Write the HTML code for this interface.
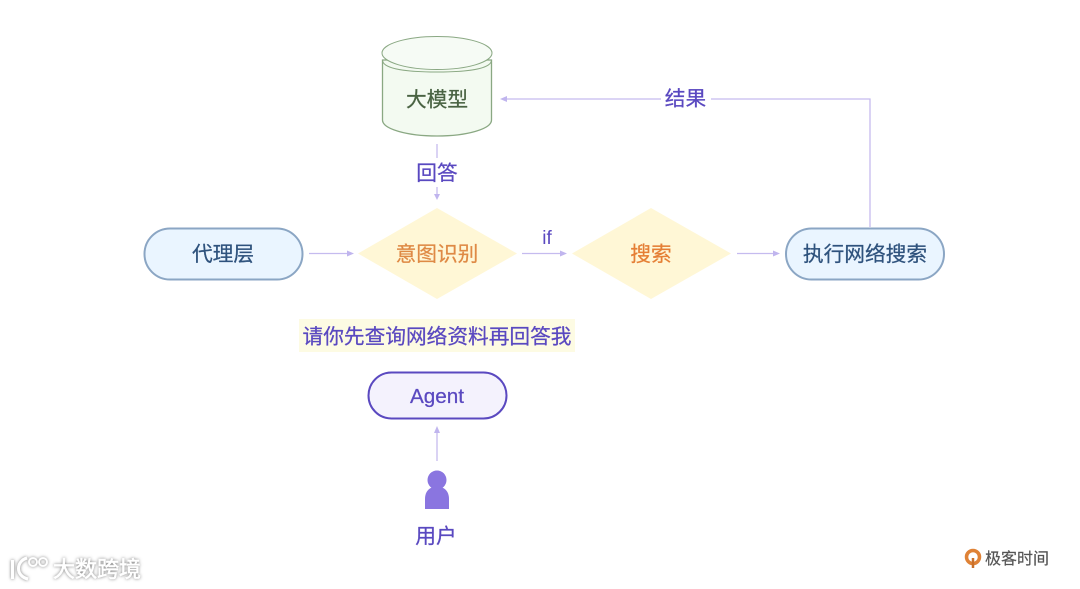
<!DOCTYPE html>
<html><head><meta charset="utf-8">
<style>
html,body{margin:0;padding:0;background:#fff;width:1080px;height:589px;overflow:hidden}
svg{display:block}
text{font-family:"Liberation Sans","Noto Sans CJK SC",sans-serif;text-anchor:middle}
.t{font-size:20.700px;stroke-width:.25px}
</style></head><body>
<svg width="1080" height="589" viewBox="0 0 1080 589" xmlns="http://www.w3.org/2000/svg">
<defs>
<filter id="sh" x="-20%" y="-40%" width="140%" height="180%"><feDropShadow dx="0" dy="0" stdDeviation="1.500" flood-color="#777" flood-opacity="1"/></filter>
<filter id="b"><feGaussianBlur stdDeviation="0.300"/></filter>
</defs>
<g filter="url(#b)">
<!-- cylinder -->
<path d="M382.500 60V120C382.500 129 407 136 437 136S491.500 129 491.500 120V60Z" fill="#f3faf1" stroke="#8aa883" stroke-width="1.300"/>
<path d="M382.500 60C382.500 69 407 72 437 72S491.500 69 491.500 60" fill="none" stroke="#8aa883" stroke-width="1"/>
<ellipse cx="437" cy="53" rx="55" ry="16.500" fill="#f6fbf5" stroke="#8aa883" stroke-width="1"/>
<!-- pills -->
<rect x="144.500" y="228.500" width="158" height="51" rx="25.500" fill="#eaf5ff" stroke="#8ba6c4" stroke-width="2"/>
<rect x="786" y="228.500" width="158" height="51" rx="25.500" fill="#eaf5ff" stroke="#8ba6c4" stroke-width="2"/>
<rect x="368.500" y="372.500" width="138" height="46" rx="23" fill="#f4f2fd" stroke="#5a48c0" stroke-width="2"/>
<!-- diamonds -->
<polygon points="437,208 517,253.500 437,299 358,253.500" fill="#fff7d6"/>
<polygon points="651,208 731,253.500 651,299 572,253.500" fill="#fff7d6"/>
<!-- highlight -->
<rect x="299" y="319" width="276" height="33" fill="#fdfbe3"/>
<!-- connectors -->
<g stroke="#c5bbef" stroke-width="1.300" fill="none">
<path d="M309 253.500H348"/>
<path d="M522 253.500H561"/>
<path d="M737 253.500H775"/>
<path d="M870 227V99H711"/>
<path d="M661 99H506"/>
<path d="M437 144V158"/>
<path d="M437 187V195"/>
<path d="M437 461V431"/>
</g>
<g fill="#c0b5ee">
<polygon points="354,253.500 347,250.500 347,256.500"/>
<polygon points="567,253.500 560,250.500 560,256.500"/>
<polygon points="780,253.500 773,250.500 773,256.500"/>
<polygon points="500,99 507,96 507,102"/>
<polygon points="437,200 434,194 440,194"/>
<polygon points="437,426 434,433 440,433"/>
</g>
<!-- user icon -->
<circle cx="437" cy="480" r="9.500" fill="#8a75e0"/>
<path d="M425 509V499C425 491 430 486.500 437 486.500S449 491 449 499V509Z" fill="#8a75e0"/>
<!-- labels -->
<text class="t" x="437" y="106.500" fill="#4a6343" stroke="#4a6343">大模型</text>
<text class="t" x="437" y="180" fill="#5a48c0" stroke="#5a48c0">回答</text>
<text class="t" x="223" y="261" fill="#2f527d" stroke="#2f527d">代理层</text>
<text class="t" x="437" y="261" fill="#df8a45" stroke="#df8a45">意图识别</text>
<text x="547" y="244" font-size="19" fill="#5a48c0">if</text>
<text class="t" x="651" y="261" fill="#e57f35" stroke="#e57f35">搜索</text>
<text class="t" x="865" y="261" fill="#2f527d" stroke="#2f527d">执行网络搜索</text>
<text class="t" x="685.500" y="105.500" fill="#5a48c0" stroke="#5a48c0">结果</text>
<text class="t" x="437" y="343.500" fill="#5a48c0" stroke="#5a48c0">请你先查询网络资料再回答我</text>
<text class="t" x="437" y="403" fill="#5a48c0" stroke="#5a48c0">Agent</text>
<text class="t" x="436" y="543" fill="#5a48c0" stroke="#5a48c0">用户</text>
</g>
<!-- left watermark -->
<g filter="url(#sh)">
<text x="97" y="577" font-size="22" fill="#fff" stroke="#fff" stroke-width=".5">大数跨境</text>
<path d="M12.500 560V579M27 558C16 561 15 576 28 579" fill="none" stroke="#fff" stroke-width="3"/>
<circle cx="33" cy="562" r="4" fill="none" stroke="#fff" stroke-width="1.800"/>
<circle cx="43" cy="562" r="4" fill="none" stroke="#fff" stroke-width="1.800"/>
</g>
<!-- right logo -->
<circle cx="973" cy="557" r="6.500" fill="none" stroke="#df8236" stroke-width="3.500"/>
<path d="M973 558V568" stroke="#c9702a" stroke-width="2.500"/>
<text x="1017" y="564" font-size="16" fill="#555" stroke="#555" stroke-width=".2">极客时间</text>
</svg>
</body></html>
